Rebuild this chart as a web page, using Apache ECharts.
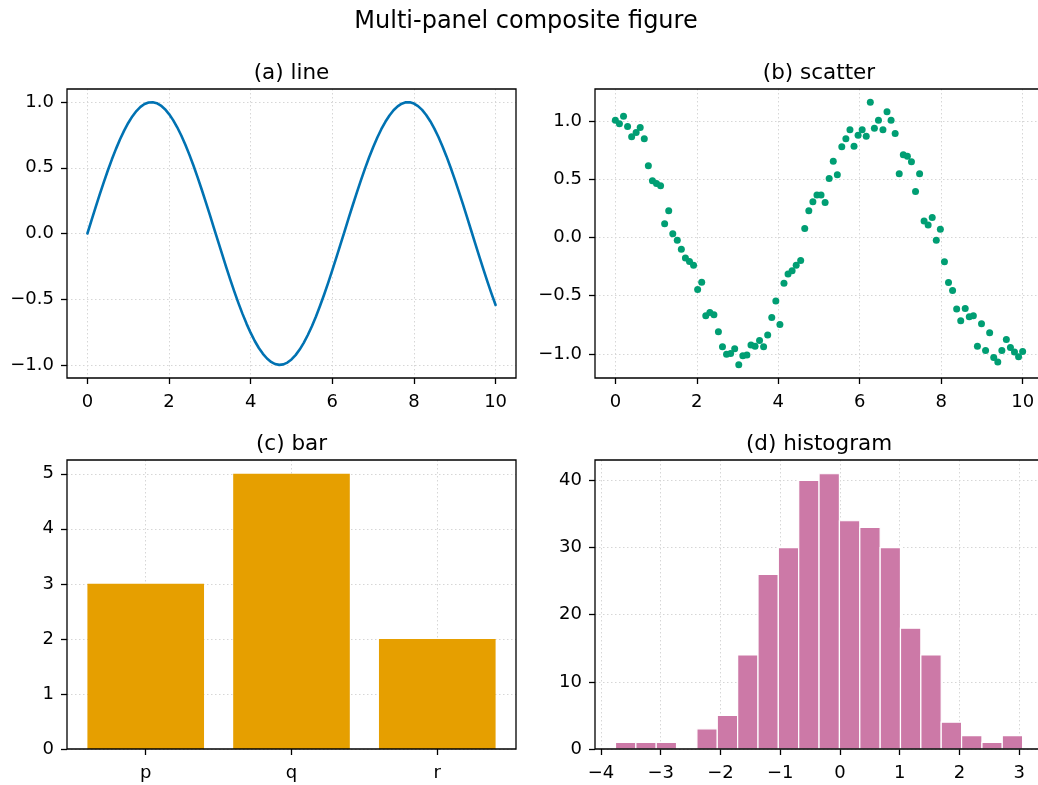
<!DOCTYPE html>
<html>
<head>
<meta charset="utf-8">
<script src="https://cdn.jsdelivr.net/npm/echarts@6/dist/echarts.min.js"></script>
<style>
html,body{margin:0;padding:0;background:#fff;}
#chart{width:1038px;height:785px;}
</style>
</head>
<body>
<div id="chart"></div>
<script>
// ---------- data ----------
const lineX = [0,0.1,0.2,0.3,0.4,0.5,0.6,0.7,0.8,0.9,
1.0,1.1,1.2,1.3,1.4,1.5,1.6,1.7,1.8,1.9,
2.0,2.1,2.2,2.3,2.4,2.5,2.6,2.7,2.8,2.9,
3.0,3.1,3.2,3.3,3.4,3.5,3.6,3.7,3.8,3.9,
4.0,4.1,4.2,4.3,4.4,4.5,4.6,4.7,4.8,4.9,
5.0,5.1,5.2,5.3,5.4,5.5,5.6,5.7,5.8,5.9,
6.0,6.1,6.2,6.3,6.4,6.5,6.6,6.7,6.8,6.9,
7.0,7.1,7.2,7.3,7.4,7.5,7.6,7.7,7.8,7.9,
8.0,8.1,8.2,8.3,8.4,8.5,8.6,8.7,8.8,8.9,
9.0,9.1,9.2,9.3,9.4,9.5,9.6,9.7,9.8,9.9,10.0];
const lineY = [0.000,0.0998,0.1987,0.2955,0.3894,0.4794,0.5646,0.6442,0.7174,0.7833,
0.8415,0.8912,0.9320,0.9636,0.9854,0.9975,0.9996,0.9917,0.9738,0.9463,
0.9093,0.8632,0.8085,0.7457,0.6755,0.5985,0.5155,0.4274,0.3350,0.2392,
0.1411,0.0416,-0.0584,-0.1577,-0.2555,-0.3508,-0.4425,-0.5298,-0.6119,-0.6878,
-0.7568,-0.8183,-0.8716,-0.9162,-0.9516,-0.9775,-0.9937,-0.9999,-0.9962,-0.9825,
-0.9589,-0.9258,-0.8835,-0.8323,-0.7728,-0.7055,-0.6313,-0.5507,-0.4646,-0.3739,
-0.2794,-0.1822,-0.0831,0.0168,0.1165,0.2151,0.3115,0.4048,0.4941,0.5784,
0.6570,0.7290,0.7937,0.8504,0.8987,0.9380,0.9679,0.9882,0.9985,0.9989,
0.9894,0.9699,0.9407,0.9022,0.8546,0.7985,0.7344,0.6630,0.5849,0.5010,
0.4121,0.3191,0.2229,0.1245,0.0248,-0.0752,-0.1743,-0.2718,-0.3665,-0.4575,-0.5440];

const scatterX = [0.00,0.10,0.20,0.30,0.40,0.51,0.61,0.71,0.81,0.91,
1.01,1.11,1.21,1.31,1.41,1.52,1.62,1.72,1.82,1.92,
2.02,2.12,2.22,2.32,2.42,2.53,2.63,2.73,2.83,2.93,
3.03,3.13,3.23,3.33,3.43,3.54,3.64,3.74,3.84,3.94,
4.04,4.14,4.24,4.34,4.44,4.55,4.65,4.75,4.85,4.95,
5.05,5.15,5.25,5.35,5.45,5.56,5.66,5.76,5.86,5.96,
6.06,6.16,6.26,6.36,6.46,6.57,6.67,6.77,6.87,6.97,
7.07,7.17,7.27,7.37,7.47,7.58,7.68,7.78,7.88,7.98,
8.08,8.18,8.28,8.38,8.48,8.59,8.69,8.79,8.89,8.99,
9.09,9.19,9.29,9.39,9.49,9.60,9.70,9.80,9.90,10.00];
const scatterY = [1.01,0.98,1.045,0.957,0.868,0.905,0.948,0.85,0.618,0.489,
0.466,0.446,0.119,0.231,0.033,-0.022,-0.099,-0.176,-0.205,-0.237,
-0.446,-0.383,-0.673,-0.644,-0.664,-0.81,-0.94,-1.003,-0.997,-0.957,
-1.095,-1.017,-1.009,-0.925,-0.934,-0.885,-0.94,-0.839,-0.687,-0.546,
-0.747,-0.392,-0.314,-0.286,-0.237,-0.196,0.079,0.231,0.308,0.366,
0.366,0.303,0.509,0.658,0.54,0.781,0.85,0.928,0.787,0.882,
0.928,0.873,1.166,0.942,1.011,0.928,1.083,1.011,0.897,0.549,
0.713,0.701,0.652,0.398,0.549,0.142,0.108,0.174,-0.022,0.071,
-0.208,-0.386,-0.455,-0.615,-0.716,-0.609,-0.681,-0.673,-0.934,-0.742,
-0.971,-0.819,-1.031,-1.071,-0.971,-0.876,-0.945,-0.985,-1.026,-0.979];

const barCategories = ['p','q','r'];
const barValues = [3,5,2];

const histEdges = [-3.757,-3.416,-3.075,-2.735,-2.394,-2.053,-1.712,-1.371,-1.031,-0.690,-0.349,-0.008,0.333,0.674,1.014,1.355,1.696,2.037,2.378,2.718,3.059];
const histCounts = [1,1,1,0,3,5,14,26,30,40,41,34,33,30,18,14,4,2,1,2];

const lineXTicks = [0,2,4,6,8,10];
const lineYTicks = [-1,-0.5,0,0.5,1];
const scatterXTicks = [0,2,4,6,8,10];
const scatterYTicks = [-1,-0.5,0,0.5,1];
const barXTicks = [0,1,2];
const barYTicks = [0,1,2,3,4,5];
const histXTicks = [-4,-3,-2,-1,0,1,2,3];
const histYTicks = [0,10,20,30,40];

const suptitle = 'Multi-panel composite figure';
const panelTitles = ['(a) line','(b) scatter','(c) bar','(d) histogram'];

// ---------- styling ----------
const FONT = "'DejaVu Sans', 'Liberation Sans', sans-serif";
const minus = s => String(s).replace('-', '\u2212');
const fmt1 = v => minus(Number(v).toFixed(1));
const fmt0 = v => minus(Math.round(Number(v)));

function axis(gridIndex, min, max, ticks, formatter, margin) {
  return {
    type: 'value', gridIndex, min, max, scale: false,
    axisLine: { show: false, onZero: false },
    axisTick: { show: true, inside: false, length: 6, customValues: ticks,
                lineStyle: { color: '#000', width: 1.3 } },
    axisLabel: { show: true, customValues: ticks, formatter, color: '#000',
                 fontSize: 18, fontFamily: FONT, margin, hideOverlap: false },
    splitLine: { show: true, lineStyle: { color: '#d6d6d6', width: 1, type: [1.5, 2.5] } }
  };
}

const grids = [
  { left: 67, top: 89, width: 449, height: 289 },
  { left: 595, top: 89, width: 448, height: 289 },
  { left: 67, top: 460, width: 449, height: 289 },
  { left: 595, top: 460, width: 448, height: 289 }
].map(g => Object.assign({ show: true, z: 10, borderColor: '#000', borderWidth: 1.3,
  backgroundColor: 'transparent', containLabel: false, outerBoundsMode: 'none' }, g));

const XM = 15, YM = 13;
const xAxes = [
  axis(0, -0.5, 10.5, lineXTicks, fmt0, XM),
  axis(1, -0.5, 10.5, scatterXTicks, fmt0, XM),
  axis(2, -0.54, 2.54, barXTicks, v => barCategories[Math.round(v)], XM),
  axis(3, -4.1, 3.4, histXTicks, fmt0, XM)
];
const yAxes = [
  axis(0, -1.1, 1.1, lineYTicks, fmt1, YM),
  axis(1, -1.208, 1.279, scatterYTicks, fmt1, YM),
  axis(2, 0, 5.25, barYTicks, fmt0, YM),
  axis(3, 0, 43.05, histYTicks, fmt0, YM)
];

const lineData = lineX.map((x, i) => [x, lineY[i]]);
const scatterData = scatterX.map((x, i) => [x, scatterY[i]]);
const barData = barValues.map((v, i) => [i, v]);
const histData = histCounts.map((c, i) => [histEdges[i], histEdges[i + 1], c]);

const BAR_HALF = 0.4;

const series = [
  { type: 'line', xAxisIndex: 0, yAxisIndex: 0, data: lineData, smooth: false,
    showSymbol: false, lineStyle: { color: '#0072B2', width: 2.6, join: 'round', cap: 'round' }, silent: true, animation: false },
  { type: 'scatter', xAxisIndex: 1, yAxisIndex: 1, data: scatterData, symbolSize: 7,
    itemStyle: { color: '#009E73', opacity: 1 }, animation: false },
  { type: 'custom', xAxisIndex: 2, yAxisIndex: 2, data: barData, animation: false,
    encode: { x: 0, y: 1 },
    renderItem: (params, api) => {
      const x = api.value(0), h = api.value(1);
      const p0 = api.coord([x - BAR_HALF, h]);
      const p1 = api.coord([x + BAR_HALF, 0]);
      return { type: 'rect', shape: { x: p0[0], y: p0[1], width: p1[0] - p0[0], height: p1[1] - p0[1] },
               style: { fill: '#E69F00' } };
    } },
  { type: 'custom', xAxisIndex: 3, yAxisIndex: 3, data: histData, animation: false,
    encode: { x: [0, 1], y: 2 },
    renderItem: (params, api) => {
      const c = api.value(2);
      if (!c) return null;
      const p0 = api.coord([api.value(0), c]);
      const p1 = api.coord([api.value(1), 0]);
      return { type: 'rect', shape: { x: p0[0], y: p0[1], width: p1[0] - p0[0], height: p1[1] - p0[1] },
               style: { fill: '#CC79A7', stroke: '#fff', lineWidth: 1.2 } };
    } }
];

const titleCenters = [[291.5, 73], [819, 73], [291.5, 444], [819, 444]];
const graphic = [
  { type: 'text', x: 526, y: 22, silent: true,
    style: { text: suptitle, fill: '#000', fontSize: 24, fontFamily: FONT, align: 'center', verticalAlign: 'middle' } }
].concat(panelTitles.map((t, i) => ({
  type: 'text', x: titleCenters[i][0], y: titleCenters[i][1], silent: true,
  style: { text: t, fill: '#000', fontSize: 21.5, fontFamily: FONT, align: 'center', verticalAlign: 'middle' }
})));

const chart = echarts.init(document.getElementById('chart'), null, { renderer: 'canvas' });
chart.setOption({
  backgroundColor: '#fff',
  animation: false,
  grid: grids,
  xAxis: xAxes,
  yAxis: yAxes,
  series,
  graphic
});
</script>
</body>
</html>
